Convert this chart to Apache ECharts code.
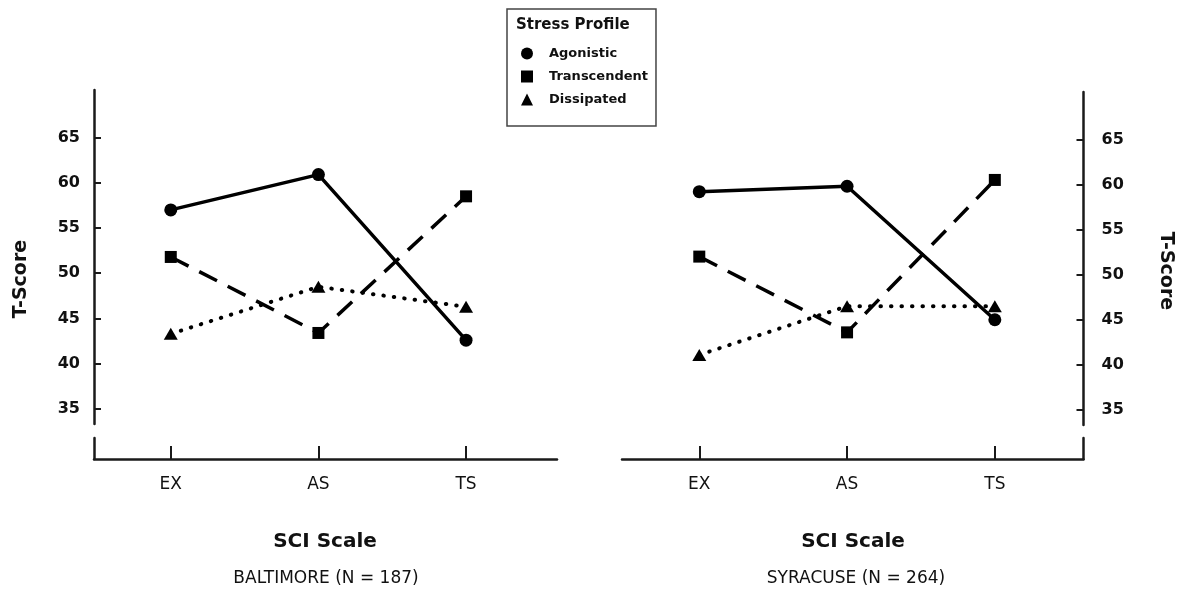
<!DOCTYPE html>
<html><head><meta charset="utf-8">
<script src="https://cdn.jsdelivr.net/npm/echarts@6/dist/echarts.min.js"></script>
<style>html,body{margin:0;padding:0;background:#fff}#c{width:1180px;height:594px}</style>
</head><body><div id="c"></div>
<script>
const categories = ['EX', 'AS', 'TS'];
const seriesNames = ['Agonistic', 'Transcendent', 'Dissipated'];
const baltimoreAgonistic = [57.0, 60.9, 42.6];
const baltimoreTranscendent = [51.8, 43.4, 58.5];
const baltimoreDissipated = [43.3, 48.5, 46.3];
const syracuseAgonistic = [59.2, 59.8, 45.0];
const syracuseTranscendent = [52.0, 43.6, 60.5];
const syracuseDissipated = [41.1, 46.5, 46.5];
const yTicks = [35, 40, 45, 50, 55, 60, 65];
const panelTitles = ['BALTIMORE (N = 187)', 'SYRACUSE (N = 264)'];
const xTitle = 'SCI Scale';
const yTitle = 'T-Score';
const legendTitle = 'Stress Profile';

const FONT = '"DejaVu Sans", "Liberation Sans", Arial, sans-serif';
const INK = '#111';
const AX = '#1a1a1a';
const xPos = categories.map((c, i) => i + 1);
const toPts = arr => arr.map((v, i) => [xPos[i], v]);

const symbols = ['circle', 'rect', 'triangle'];
const symbolSizes = [13, 12, [14, 12]];
const lineStyles = [
  { color: '#000', width: 3.5, type: 'solid' },
  { color: '#000', width: 3.5, type: [20, 12] },
  { color: '#000', width: 4, type: [0.5, 10], cap: 'round' }
];

function upperY(gridIndex, pos, margin, min, max) {
  return {
    type: 'value', gridIndex, position: pos, min, max,
    splitLine: { show: false },
    axisLine: { show: true, lineStyle: { color: AX, width: 2.5 } },
    axisTick: { show: true, inside: true, length: 7, customValues: yTicks, lineStyle: { color: AX, width: 2 } },
    axisLabel: { show: true, customValues: yTicks, margin, color: INK, fontFamily: FONT, fontWeight: 'bold', fontSize: 16 }
  };
}
function lowerY(gridIndex, pos) {
  return {
    type: 'value', gridIndex, position: pos, min: 0, max: 1,
    splitLine: { show: false },
    axisLine: { show: true, lineStyle: { color: AX, width: 2.5 } },
    axisTick: { show: false }, axisLabel: { show: false }
  };
}
function hiddenX(gridIndex, min, max) {
  return { type: 'value', gridIndex, min, max, show: false, splitLine: { show: false } };
}
function lowerX(gridIndex, min, max) {
  return {
    type: 'value', gridIndex, min, max, position: 'bottom',
    splitLine: { show: false },
    axisLine: { show: true, onZero: false, lineStyle: { color: AX, width: 2.5 } },
    axisTick: { show: true, inside: true, length: 13, customValues: xPos, lineStyle: { color: AX, width: 2 } },
    axisLabel: {
      show: true, customValues: xPos, margin: 17, color: INK, fontFamily: FONT, fontSize: 17,
      formatter: v => categories[Math.round(v) - 1] || ''
    }
  };
}
function makeSeries(xi, yi, datasets) {
  return datasets.map((d, k) => ({
    type: 'line', name: seriesNames[k], xAxisIndex: xi, yAxisIndex: yi,
    data: toPts(d), symbol: symbols[k], symbolSize: symbolSizes[k],
    itemStyle: { color: '#000' }, lineStyle: lineStyles[k],
    z: 3 - k, silent: true
  }));
}

const chart = echarts.init(document.getElementById('c'), null, { renderer: 'canvas' });
chart.setOption({
  animation: false,
  backgroundColor: '#fff',
  grid: [
    { left: 94, top: 90, width: 463, height: 334 },
    { left: 94, top: 438, width: 463, height: 21 },
    { left: 622, top: 92, width: 461.5, height: 333 },
    { left: 622, top: 438, width: 461.5, height: 21 }
  ],
  xAxis: [
    hiddenX(0, 0.48, 3.616),
    lowerX(1, 0.48, 3.616),
    hiddenX(2, 0.477, 3.6),
    lowerX(3, 0.477, 3.6)
  ],
  yAxis: [
    upperY(0, 'left', 14, 33.34, 70.25),
    lowerY(1, 'left'),
    upperY(2, 'right', 18, 33.33, 70.25),
    lowerY(3, 'right')
  ],
  legend: {
    orient: 'vertical', left: 507, top: 9,
    padding: [38, 8, 20, 14],
    itemWidth: 12, itemHeight: 12, itemGap: 10,
    borderColor: '#444', borderWidth: 1.5, backgroundColor: '#fff',
    selectedMode: false,
    textStyle: { fontFamily: FONT, fontWeight: 'bold', fontSize: 13, color: INK, padding: [0, 0, 0, 11], lineHeight: 12 },
    data: seriesNames.map((n, k) => ({ name: n, icon: symbols[k] }))
  },
  graphic: [
    { type: 'text', x: 516, y: 25.5, z: 100, style: { text: legendTitle, fontFamily: FONT, fontWeight: 'bold', fontSize: 15, fill: INK, align: 'left', verticalAlign: 'middle' } },
    { type: 'text', x: 21, y: 279, rotation: Math.PI / 2, style: { text: yTitle, fontFamily: FONT, fontWeight: 'bold', fontSize: 19, fill: INK, align: 'center', verticalAlign: 'middle' } },
    { type: 'text', x: 1166, y: 271, rotation: -Math.PI / 2, style: { text: yTitle, fontFamily: FONT, fontWeight: 'bold', fontSize: 19, fill: INK, align: 'center', verticalAlign: 'middle' } },
    { type: 'text', x: 325, y: 542, style: { text: xTitle, fontFamily: FONT, fontWeight: 'bold', fontSize: 20, fill: INK, align: 'center', verticalAlign: 'middle' } },
    { type: 'text', x: 853, y: 542, style: { text: xTitle, fontFamily: FONT, fontWeight: 'bold', fontSize: 20, fill: INK, align: 'center', verticalAlign: 'middle' } },
    { type: 'text', x: 326, y: 579, style: { text: panelTitles[0], fontFamily: FONT, fontSize: 17, fill: INK, align: 'center', verticalAlign: 'middle' } },
    { type: 'text', x: 856, y: 579, style: { text: panelTitles[1], fontFamily: FONT, fontSize: 17, fill: INK, align: 'center', verticalAlign: 'middle' } }
  ],
  series: [
    ...makeSeries(0, 0, [baltimoreAgonistic, baltimoreTranscendent, baltimoreDissipated]),
    ...makeSeries(2, 2, [syracuseAgonistic, syracuseTranscendent, syracuseDissipated])
  ]
});
</script>
</body></html>
